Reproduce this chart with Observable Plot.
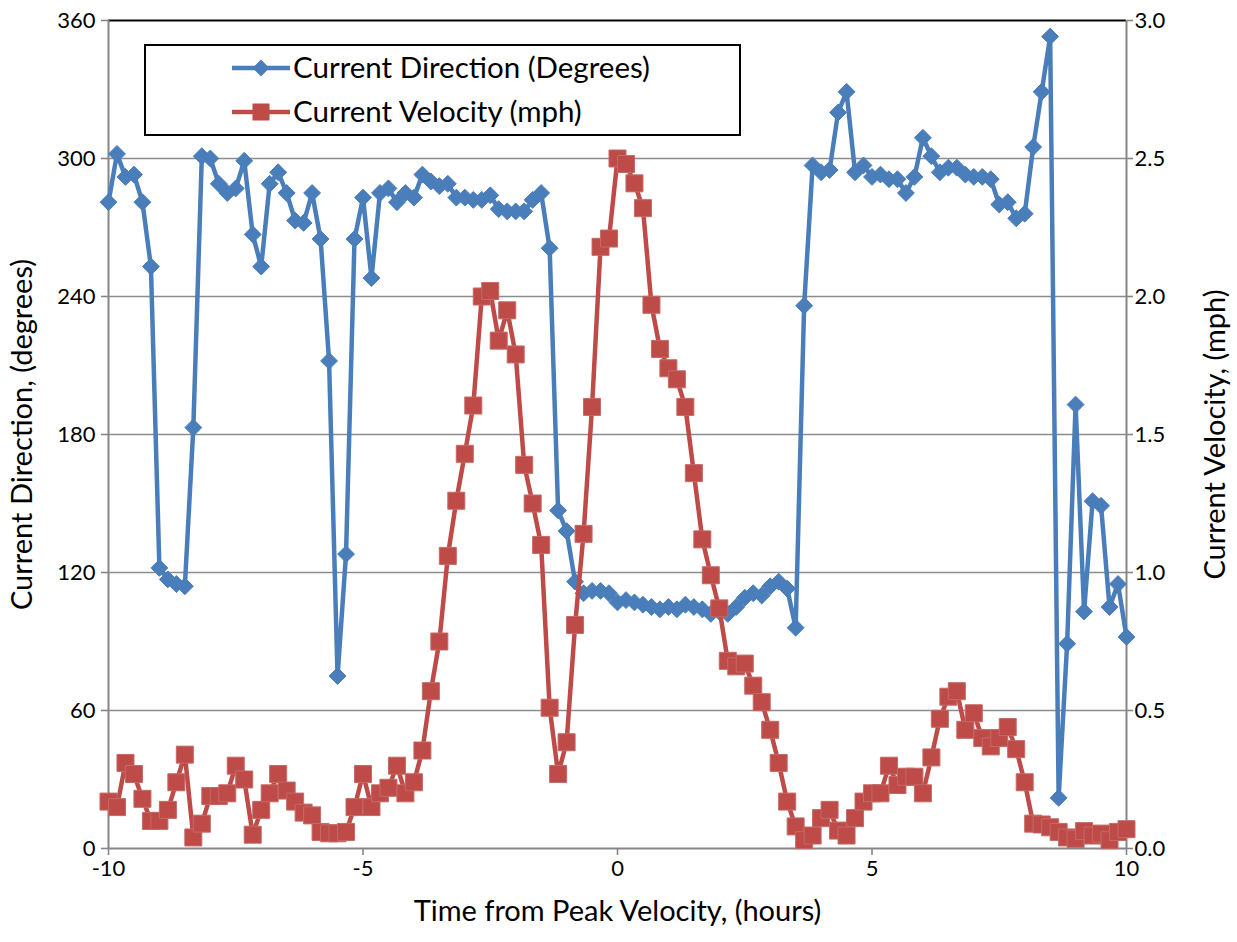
<!DOCTYPE html>
<html>
<head>
<meta charset="utf-8">
<script src="https://cdn.jsdelivr.net/npm/d3@7"></script>
<script src="https://cdn.jsdelivr.net/npm/@observablehq/plot@0.6"></script>
<style>
  html, body { margin: 0; padding: 0; background: white; }
  #chart { position: relative; width: 1237px; height: 942px; }
  #legend { position: absolute; left: 0; top: 0; pointer-events: none; }
</style>
</head>
<body>
<div id="chart"></div>
<script>
// ---- data ----
// time from peak velocity, minutes (10-minute samples)
const minutesFromPeak = [
  -600,-590,-580,-570,-560,-550,-540,-530,-520,-510,
  -500,-490,-480,-470,-460,-450,-440,-430,-420,-410,
  -400,-390,-380,-370,-360,-350,-340,-330,-320,-310,
  -300,-290,-280,-270,-260,-250,-240,-230,-220,-210,
  -200,-190,-180,-170,-160,-150,-140,-130,-120,-110,
  -100,-90,-80,-70,-60,-50,-40,-30,-20,-10,
  0,10,20,30,40,50,60,70,80,90,
  100,110,120,130,140,150,160,170,180,190,
  200,210,220,230,240,250,260,270,280,290,
  300,310,320,330,340,350,360,370,380,390,
  400,410,420,430,440,450,460,470,480,490,
  500,510,520,530,540,550,560,570,580,590,
  600
];
// current direction, degrees
const directionDeg = [
  281,302,292,293,281,253,122,117,115,114,
  183,301,300,289,285,287,299,267,253,289,
  294,285,273,272,285,265,212,75,128,265,
  283,248,285,287,281,285,283,293,290,288,
  289,283,283,282,282,284,278,277,277,277,
  282,285,261,147,138,116,111,112,112,111,
  107,108,107,106,105,104,105,104,106,105,
  104,102,103,102,105,109,111,110,114,116,
  113,96,236,297,294,295,320,329,294,297,
  292,293,291,291,285,292,309,301,294,296,
  296,293,292,292,291,280,281,274,276,305,
  329,353,22,89,193,103,151,149,105,115,
  92
];
// current velocity, mph
const velocityMph = [
  0.17,0.15,0.31,0.27,0.18,0.10,0.10,0.14,0.24,0.34,
  0.04,0.09,0.19,0.19,0.20,0.30,0.25,0.05,0.14,0.20,
  0.27,0.21,0.17,0.13,0.12,0.06,0.055,0.055,0.06,0.15,
  0.27,0.15,0.20,0.22,0.30,0.20,0.24,0.355,0.57,0.75,
  1.06,1.26,1.43,1.605,2.00,2.02,1.84,1.95,1.79,1.39,
  1.25,1.10,0.51,0.27,0.385,0.81,1.14,1.60,2.18,2.21,
  2.50,2.48,2.41,2.32,1.97,1.81,1.74,1.70,1.60,1.36,
  1.12,0.99,0.87,0.68,0.66,0.67,0.59,0.53,0.43,0.31,
  0.17,0.08,0.03,0.047,0.11,0.14,0.065,0.047,0.11,0.17,
  0.20,0.20,0.30,0.23,0.26,0.26,0.20,0.33,0.47,0.55,
  0.57,0.43,0.49,0.40,0.37,0.40,0.44,0.36,0.24,0.09,
  0.087,0.077,0.06,0.04,0.035,0.063,0.047,0.054,0.03,0.06,
  0.07
];
// axis ticks
const xTicks = [-10, -5, 0, 5, 10];
const directionTicks = [0, 60, 120, 180, 240, 300, 360];
const velocityTickLabels = ["0.0", "0.5", "1.0", "1.5", "2.0", "2.5", "3.0"];
const seriesNames = ["Current Direction (Degrees)", "Current Velocity (mph)"];
const titles = {
  x: "Time from Peak Velocity, (hours)",
  yLeft: "Current Direction, (degrees)",
  yRight: "Current Velocity, (mph)"
};

// ---- build table ----
const VEL_MAX = 3.0, DIR_MAX = 360;
const velToDir = v => v * DIR_MAX / VEL_MAX;
const rows = minutesFromPeak.map((m, i) => ({
  t: m / 60,
  dir: directionDeg[i],
  velY: velToDir(velocityMph[i])
}));

const BLUE = "#4a7ebb";
const RED = "#be4b48";
const AXIS = "#868686";
const FONT = "Lato, 'Open Sans', sans-serif";
const DIAMOND_R = 7.6;
const SQUARE_R = 9.6;

const plot = Plot.plot({
  width: 1237,
  height: 942,
  marginLeft: 108,
  marginRight: 111,
  marginTop: 20,
  marginBottom: 94,
  x: { domain: [-10, 10] },
  y: { domain: [0, 360] },
  style: { fontFamily: FONT, fontSize: "22px", color: "black", background: "white", overflow: "visible" },
  marks: [
    Plot.gridY(directionTicks.slice(1, -1), { stroke: "#8c8c8c", strokeOpacity: 1, strokeWidth: 1.6 }),
    Plot.ruleY([0], { stroke: AXIS, strokeWidth: 2 }),
    Plot.ruleY([360], { stroke: "black", strokeWidth: 2 }),
    Plot.ruleX([-10, 10], { stroke: AXIS, strokeWidth: 2 }),
    Plot.axisY(directionTicks, { anchor: "left", tickSize: 7, tickPadding: 6, label: null, stroke: AXIS, strokeWidth: 1.6, fill: "black", fontSize: 22 }),
    Plot.axisY(directionTicks, { anchor: "right", tickSize: 6, tickPadding: 2, label: null, stroke: AXIS, strokeWidth: 1.6, fill: "black", fontSize: 22,
      tickFormat: d => velocityTickLabels[directionTicks.indexOf(d)] }),
    Plot.axisX(xTicks, { anchor: "bottom", tickSize: 7, tickPadding: 5, label: null, stroke: AXIS, strokeWidth: 1.6, fill: "black", fontSize: 22,
      tickFormat: d => String(d) }),
    // direction series
    Plot.line(rows, { x: "t", y: "dir", stroke: BLUE, strokeWidth: 4.5 }),
    Plot.dot(rows, { x: "t", y: "dir", symbol: "diamond2", r: DIAMOND_R, fill: BLUE, stroke: BLUE, strokeWidth: 1 }),
    // velocity series
    Plot.line(rows, { x: "t", y: "velY", stroke: RED, strokeWidth: 4.5 }),
    Plot.dot(rows, { x: "t", y: "velY", symbol: "square", r: SQUARE_R, fill: RED, stroke: "#c46a67", strokeWidth: 1 }),
    // axis titles
    Plot.text([titles.x], { frameAnchor: "bottom", textAnchor: "middle", dy: 72, fontSize: 29, fill: "black" }),
    Plot.text([titles.yLeft], { frameAnchor: "left", textAnchor: "middle", dx: -86, rotate: -90, fontSize: 29, fill: "black" }),
    Plot.text([titles.yRight], { frameAnchor: "right", textAnchor: "middle", dx: 89, rotate: -90, fontSize: 29, fill: "black" })
  ]
});

const chart = document.getElementById("chart");
chart.appendChild(plot);

// ---- legend (inside plot area, top-left) ----
const lg = d3.select(chart).append("svg")
  .attr("id", "legend")
  .attr("width", 1237).attr("height", 942);
lg.append("rect")
  .attr("x", 145).attr("y", 45).attr("width", 595).attr("height", 90)
  .attr("fill", "white").attr("stroke", "black").attr("stroke-width", 2);
const legendItems = [
  { name: seriesNames[0], color: BLUE, symbol: d3.symbolDiamond2, size: Math.PI * DIAMOND_R * DIAMOND_R, y: 68 },
  { name: seriesNames[1], color: RED, symbol: d3.symbolSquare, size: Math.PI * SQUARE_R * SQUARE_R, y: 112 }
];
for (const it of legendItems) {
  lg.append("line").attr("x1", 232).attr("x2", 290).attr("y1", it.y).attr("y2", it.y)
    .attr("stroke", it.color).attr("stroke-width", 4.5);
  lg.append("path").attr("transform", `translate(261,${it.y})`)
    .attr("d", d3.symbol(it.symbol, it.size)()).attr("fill", it.color);
  lg.append("text").attr("x", 293).attr("y", it.y).attr("dy", "0.35em")
    .attr("font-family", FONT).attr("font-size", 29.5).attr("fill", "black")
    .text(it.name);
}
</script>
</body>
</html>
